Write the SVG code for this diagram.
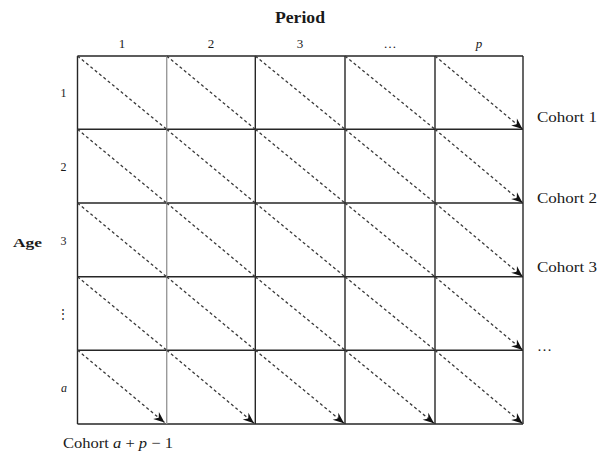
<svg xmlns="http://www.w3.org/2000/svg" width="606" height="452" viewBox="0 0 606 452">
<style>
  text { font-family: "Liberation Serif", "Times New Roman", serif; fill: #1a1a1a; }
  .grid { stroke: #262626; stroke-width: 1.4; fill: none; }
  .gridlight { stroke: #9a9a9a; stroke-width: 1.4; fill: none; }
  .diag { stroke: #3a3a3a; stroke-width: 1.3; stroke-dasharray: 3 2.6; fill: none; }
  .arr { marker-end: url(#ah); }
  .hdr { font-size: 13px; text-anchor: middle; }
  .row { font-size: 12px; text-anchor: middle; }
  .coh { font-size: 15px; }
</style>
<defs>
  <marker id="ah" markerUnits="userSpaceOnUse" markerWidth="14" markerHeight="12" viewBox="-12 -6 14 12" refX="0" refY="0" orient="auto">
    <path d="M0,0 L-11,-4.5 L-7.5,0 L-11,4.5 Z" fill="#111" stroke="none"/>
  </marker>
</defs>

<g id="titles">
  <text x="300" y="23" font-size="16" font-weight="bold" text-anchor="middle" textLength="50" lengthAdjust="spacingAndGlyphs">Period</text>
  <text x="27.5" y="247" font-size="13" font-weight="bold" text-anchor="middle" textLength="29" lengthAdjust="spacingAndGlyphs">Age</text>
</g>

<g id="period-labels">
  <text class="hdr" x="122" y="48">1</text>
  <text class="hdr" x="211" y="48">2</text>
  <text class="hdr" x="300" y="48">3</text>
  <text class="hdr" x="390" y="48">…</text>
  <text class="hdr" x="479" y="48" font-style="italic">p</text>
</g>

<g id="age-labels">
  <text class="row" x="63.5" y="97">1</text>
  <text class="row" x="63.5" y="171">2</text>
  <text class="row" x="63.5" y="245">3</text>
  <text class="row" x="63" y="318" font-family="'DejaVu Serif', serif">⋮</text>
  <text class="row" x="64" y="392" font-style="italic">a</text>
</g>

<g id="grid">
  <line class="grid" x1="77.5" y1="56" x2="523" y2="56"/>
  <line class="grid" x1="77.5" y1="129.3" x2="523" y2="129.3"/>
  <line class="grid" x1="77.5" y1="203" x2="523" y2="203"/>
  <line class="grid" x1="77.5" y1="276.8" x2="523" y2="276.8"/>
  <line class="grid" x1="77.5" y1="350.2" x2="523" y2="350.2"/>
  <line class="grid" x1="77.5" y1="424" x2="523" y2="424"/>
  <line class="grid" x1="77.5" y1="56" x2="77.5" y2="424"/>
  <line class="gridlight" x1="166.7" y1="56" x2="166.7" y2="424"/>
  <line class="grid" x1="255.3" y1="56" x2="255.3" y2="424"/>
  <line class="grid" x1="345" y1="56" x2="345" y2="424"/>
  <line class="grid" x1="435" y1="56" x2="435" y2="424"/>
  <line class="grid" x1="523" y1="56" x2="523" y2="424"/>
</g>

<g id="connectors">
  <path class="diag" d="M77.5,56 L166.7,129.3"/>
  <path class="diag" d="M166.7,56 L255.3,129.3"/>
  <path class="diag" d="M255.3,56 L345,129.3"/>
  <path class="diag" d="M345,56 L435,129.3"/>
  <path class="diag arr" d="M435,56 L522.5,129"/>

  <path class="diag" d="M77.5,129.3 L166.7,203"/>
  <path class="diag" d="M166.7,129.3 L255.3,203"/>
  <path class="diag" d="M255.3,129.3 L345,203"/>
  <path class="diag" d="M345,129.3 L435,203"/>
  <path class="diag arr" d="M435,129.3 L522.5,202.7"/>

  <path class="diag" d="M77.5,203 L166.7,276.8"/>
  <path class="diag" d="M166.7,203 L255.3,276.8"/>
  <path class="diag" d="M255.3,203 L345,276.8"/>
  <path class="diag" d="M345,203 L435,276.8"/>
  <path class="diag arr" d="M435,203 L522.5,276.5"/>

  <path class="diag" d="M77.5,276.8 L166.7,350.2"/>
  <path class="diag" d="M166.7,276.8 L255.3,350.2"/>
  <path class="diag" d="M255.3,276.8 L345,350.2"/>
  <path class="diag" d="M345,276.8 L435,350.2"/>
  <path class="diag arr" d="M435,276.8 L522.5,349.9"/>

  <path class="diag arr" d="M77.5,350.2 L164.5,422.5"/>
  <path class="diag arr" d="M166.7,350.2 L254,423.2"/>
  <path class="diag arr" d="M255.3,350.2 L344,423.2"/>
  <path class="diag arr" d="M345,350.2 L434,423.2"/>
  <path class="diag arr" d="M435,350.2 L522.5,423.6"/>
</g>

<g id="cohort-labels">
  <text class="coh" x="537" y="122" textLength="60" lengthAdjust="spacingAndGlyphs">Cohort 1</text>
  <text class="coh" x="537" y="202.5" textLength="60" lengthAdjust="spacingAndGlyphs">Cohort 2</text>
  <text class="coh" x="537" y="271.5" textLength="60" lengthAdjust="spacingAndGlyphs">Cohort 3</text>
  <text class="coh" x="537" y="351" textLength="15" lengthAdjust="spacingAndGlyphs">…</text>
  <text class="coh" x="63" y="447.5" textLength="110" lengthAdjust="spacingAndGlyphs">Cohort <tspan font-style="italic">a</tspan> + <tspan font-style="italic">p</tspan> − 1</text>
</g>
</svg>
